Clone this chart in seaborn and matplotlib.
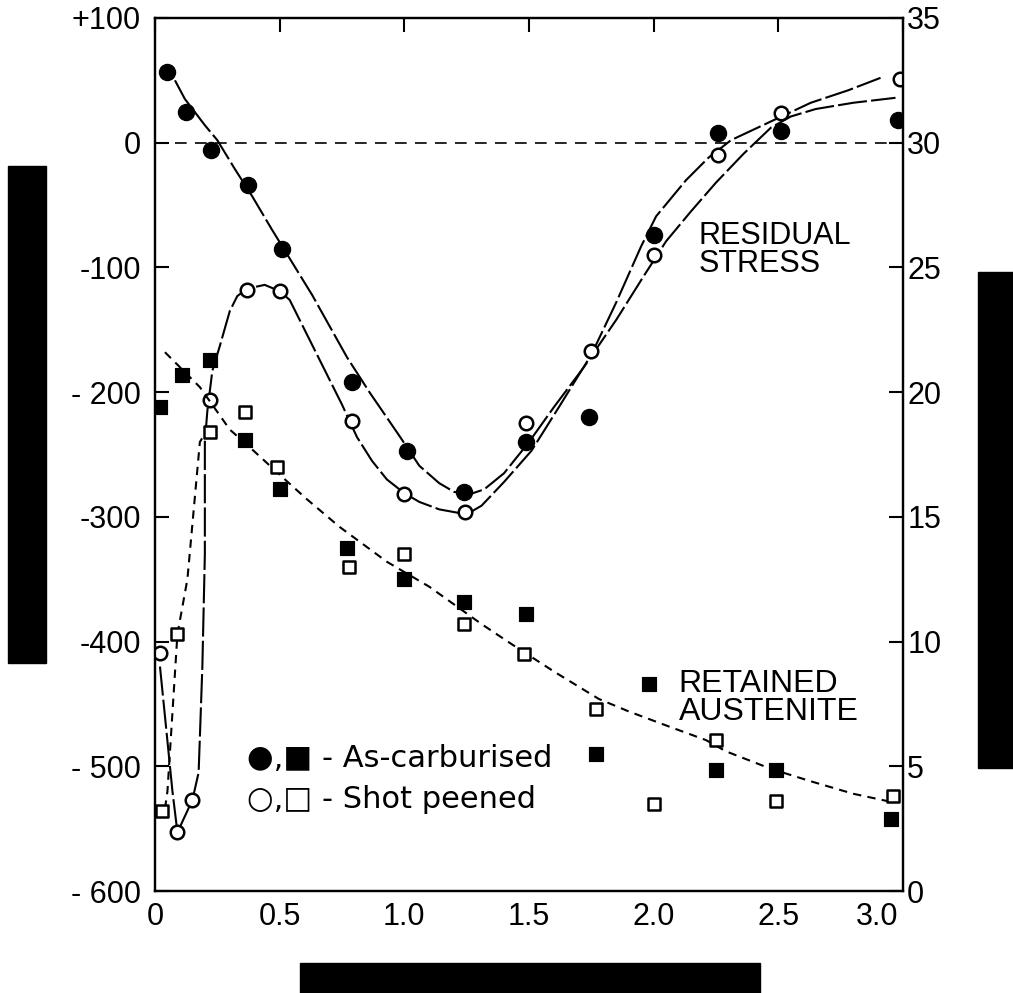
import pandas as pd
import seaborn as sns
import matplotlib.pyplot as plt
import matplotlib.transforms as mtransforms
from matplotlib.patches import Rectangle

sns.set_style("white")
plt.rcParams['font.family'] = ['Liberation Sans', 'DejaVu Sans']
plt.rcParams['text.color'] = 'black'
plt.rcParams['xtick.color'] = 'black'
plt.rcParams['ytick.color'] = 'black'

# residual stress points (left axis)
rs_ac_x = [0.05, 0.125, 0.225, 0.375, 0.51, 0.79, 1.01, 1.24, 1.49, 1.74, 2.0, 2.26, 2.51, 2.98]
rs_ac_y = [57, 25, -6, -34, -85, -192, -247, -280, -240, -220, -74, 8, 9, 18]
rs_sp_x = [0.02, 0.09, 0.15, 0.22, 0.37, 0.5, 0.79, 1.0, 1.245, 1.49, 1.75, 2.0, 2.26, 2.51, 2.99]
rs_sp_y = [-409, -553, -527, -206, -118, -119, -223, -282, -296, -225, -167, -90, -10, 24, 51]

# retained austenite points (right axis, %)
ra_ac_x = [0.02, 0.11, 0.22, 0.36, 0.5, 0.77, 1.0, 1.24, 1.49, 1.77, 1.98, 2.25, 2.49, 2.95]
ra_ac_y = [19.4, 20.7, 21.3, 18.1, 16.1, 13.75, 12.5, 11.6, 11.1, 5.5, 8.3, 4.85, 4.85, 2.9]
ra_sp_x = [0.03, 0.09, 0.22, 0.36, 0.49, 0.78, 1.0, 1.24, 1.48, 1.77, 2.0, 2.25, 2.49, 2.96]
ra_sp_y = [3.2, 10.3, 18.4, 19.2, 17.0, 13.0, 13.5, 10.7, 9.5, 7.3, 3.5, 6.05, 3.6, 3.8]

# hand drawn curves
fit_ac_x = [0.08, 0.12, 0.2, 0.25, 0.32, 0.39, 0.47, 0.55, 0.63, 0.7, 0.77, 0.86, 0.98, 1.06,
            1.14, 1.2, 1.26, 1.32, 1.4, 1.5, 1.6, 1.72, 1.85, 1.96, 2.05, 2.15, 2.25, 2.36,
            2.47, 2.55, 2.65, 2.8, 2.97]
fit_ac_y = [50, 35, 14, 2, -21, -43, -70, -96, -122, -147, -172, -200, -235, -259,
            -273, -280, -282, -278, -265, -240, -212, -180, -142, -107, -79, -55, -32, -9,
            12, 21, 27, 32, 36]
fit_sp_x = [0.02, 0.045, 0.07, 0.09, 0.15, 0.175, 0.19, 0.2, 0.2, 0.21, 0.23, 0.26, 0.3,
            0.33, 0.37, 0.44, 0.5, 0.54, 0.6, 0.68, 0.75, 0.81, 0.87, 0.93, 1.0, 1.06, 1.14,
            1.25, 1.31, 1.4, 1.51, 1.62, 1.75, 1.85, 1.95, 2.01, 2.13, 2.22, 2.31, 2.47,
            2.63, 2.78, 2.91]
fit_sp_y = [-420, -470, -520, -553, -527, -505, -420, -330, -240, -215, -183, -163, -135,
            -123, -117, -114, -119, -126, -150, -182, -210, -236, -255, -270, -281, -288,
            -294, -298, -291, -272, -247, -212, -170, -128, -83, -59, -30, -12, 2, 17,
            32, 42, 52]
fit_ra_x = [0.04, 0.1, 0.18, 0.3, 0.39, 0.51, 0.61, 0.74, 0.93, 1.1, 1.31, 1.43, 1.6, 1.78,
            1.9, 2.06, 2.21, 2.29, 2.47, 2.63, 2.8, 2.94]
fit_ra_y = [21.6, 21.0, 20.2, 18.5, 17.7, 16.6, 15.7, 14.6, 13.2, 12.2, 10.7, 9.9, 8.8, 7.7,
            7.2, 6.6, 6.05, 5.6, 4.9, 4.4, 3.9, 3.6]
fit_ra_sp_x = [0.04, 0.05, 0.09, 0.13, 0.18, 0.21]
fit_ra_sp_y = [3.3, 4.0, 10.3, 12.5, 18.0, 18.5]

x_ticks = [0, 0.5, 1.0, 1.5, 2.0, 2.5, 3.0]
x_labels = ["0", "0.5", "1.0", "1.5", "2.0", "2.5", "3.0"]
left_ticks = [100, 0, -100, -200, -300, -400, -500, -600]
left_labels = ["+100", "0", "-100", "- 200", "-300", "-400", "- 500", "- 600"]
right_ticks = [0, 5, 10, 15, 20, 25, 30, 35]

fig = plt.figure(figsize=(10.13, 9.93), dpi=100)
ax = fig.add_axes([0.153, 0.1027, 0.7384, 0.8792])
ax2 = ax.twinx()

lw = 1.5
long_dash = (0, (14, 2))
short_dash = (0, (4, 3))

ax.axhline(0, color="black", lw=1.2, linestyle=(0, (7, 5)), zorder=1)
sns.lineplot(x=fit_ac_x, y=fit_ac_y, ax=ax, color="black", lw=lw, sort=False,
             estimator=None, linestyle=long_dash, zorder=2)
sns.lineplot(x=fit_sp_x, y=fit_sp_y, ax=ax, color="black", lw=lw, sort=False,
             estimator=None, linestyle=long_dash, zorder=2)
sns.scatterplot(x=rs_ac_x, y=rs_ac_y, ax=ax, marker="o", s=135, color="black",
                edgecolor="black", zorder=3)
sns.scatterplot(x=rs_sp_x, y=rs_sp_y, ax=ax, marker="o", s=95, color="white",
                edgecolor="black", linewidth=1.8, zorder=3)

sns.lineplot(x=fit_ra_x, y=fit_ra_y, ax=ax2, color="black", lw=lw, sort=False,
             estimator=None, linestyle=short_dash, zorder=2)
sns.lineplot(x=fit_ra_sp_x, y=fit_ra_sp_y, ax=ax2, color="black", lw=lw, sort=False,
             estimator=None, linestyle=short_dash, zorder=2)
sns.scatterplot(x=ra_ac_x, y=ra_ac_y, ax=ax2, marker="s", s=110, color="black",
                edgecolor="black", zorder=3)
sns.scatterplot(x=ra_sp_x, y=ra_sp_y, ax=ax2, marker="s", s=80, color="white",
                edgecolor="black", linewidth=1.8, zorder=3)

ax.set_xlim(0, 3.0)
ax.set_ylim(-600, 100)
ax2.set_ylim(0, 35)
ax.set_xticks(x_ticks)
ax.set_xticklabels(x_labels)
ax.set_yticks(left_ticks)
ax.set_yticklabels(left_labels)
ax2.set_yticks(right_ticks)
ax.set_xlabel("")
ax.set_ylabel("")
ax2.set_ylabel("")

ax.tick_params(axis="both", direction="in", length=10, width=1.5, labelsize=22,
               top=True, right=False, pad=8)
ax.tick_params(axis="y", pad=10)
ax2.tick_params(axis="y", direction="in", length=10, width=1.5, labelsize=22, pad=3)
for a in (ax, ax2):
    for sp in a.spines.values():
        sp.set_linewidth(1.6)
        sp.set_color("black")

# last x label sits left of the right axis labels, as in the original
last = ax.get_xticklabels()[-1]
last.set_horizontalalignment("right")
last.set_transform(last.get_transform() + mtransforms.ScaledTranslation(-0.05, 0, fig.dpi_scale_trans))

ax.text(2.18, -63, "RESIDUAL\nSTRESS", fontsize=22, va="top", ha="left", linespacing=0.88)
ax2.text(2.1, 8.9, "RETAINED\nAUSTENITE", fontsize=23, va="top", ha="left", linespacing=0.9)
ax.text(0.37, -494, "\u25cf,\u25a0 - As-carburised", fontsize=22, va="center", ha="left",
        family="DejaVu Sans")
ax.text(0.37, -527, "\u25cb,\u25a1 - Shot peened", fontsize=22, va="center", ha="left",
        family="DejaVu Sans")

# redacted axis titles
W, H = 1013, 993
for x0, y0, x1, y1 in [(8, 166, 46, 663), (978, 272, 1013, 768), (300, 963, 760, 993)]:
    fig.add_artist(Rectangle((x0 / W, 1 - y1 / H), (x1 - x0) / W, (y1 - y0) / H,
                             transform=fig.transFigure, color="black"))

fig.savefig("out.png", dpi=100)
